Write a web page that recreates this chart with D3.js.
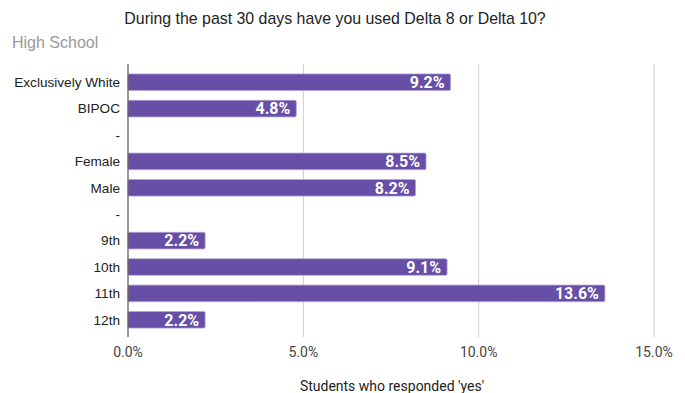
<!DOCTYPE html>
<html>
<head>
<meta charset="utf-8">
<script src="https://cdn.jsdelivr.net/npm/d3@7"></script>
<style>
  body { margin: 0; background: #fff; }
  svg { display: block; }
</style>
</head>
<body>
<div id="chart"></div>
<script>
// chart data
const categories = ["Exclusively White", "BIPOC", "-", "Female", "Male", "-", "9th", "10th", "11th", "12th"];
const values = [9.2, 4.8, null, 8.5, 8.2, null, 2.2, 9.1, 13.6, 2.2];
const xTicks = [0, 5, 10, 15];

const width = 685, height = 393;
const plotLeft = 128, plotRight = 654, plotTop = 64, plotBottom = 337;

const svg = d3.select("#chart").append("svg")
    .attr("width", width)
    .attr("height", height);

const x = d3.scaleLinear().domain([0, 15]).range([plotLeft, plotRight]);
const y = d3.scaleBand()
    .domain(categories.map((d, i) => i))
    .range([69, 333])
    .paddingInner(0.37)
    .paddingOuter(0.185);

// title + subtitle
svg.append("text")
    .attr("x", 335).attr("y", 24)
    .attr("text-anchor", "middle")
    .attr("font-family", "Liberation Sans, Arial, sans-serif")
    .attr("font-size", 15.9)
    .attr("fill", "#222")
    .text("During the past 30 days have you used Delta 8 or Delta 10?");

svg.append("text")
    .attr("x", 12).attr("y", 48)
    .attr("font-family", "Liberation Sans, Arial, sans-serif")
    .attr("font-size", 16)
    .attr("fill", "#999")
    .text("High School");

// gridlines
svg.append("g")
  .selectAll("line")
  .data(xTicks.filter(d => d > 0))
  .join("line")
    .attr("x1", d => x(d)).attr("x2", d => x(d))
    .attr("y1", plotTop).attr("y2", plotBottom)
    .attr("stroke", "#ccc")
    .attr("stroke-width", 1);

// bars
const rows = categories.map((c, i) => ({ i, c, v: values[i] })).filter(d => d.v != null);

svg.append("g")
  .selectAll("rect")
  .data(rows)
  .join("rect")
    .attr("x", x(0))
    .attr("y", d => y(d.i))
    .attr("width", d => x(d.v) - x(0))
    .attr("height", y.bandwidth())
    .attr("rx", 1.5)
    .attr("fill", "#674ea7")
    .attr("stroke", "#b4a7d6")
    .attr("stroke-width", 0.8);

// value labels
svg.append("g")
  .selectAll("text")
  .data(rows)
  .join("text")
    .attr("x", d => x(d.v) - 6)
    .attr("y", d => y(d.i) + y.bandwidth() / 2)
    .attr("dy", "0.36em")
    .attr("text-anchor", "end")
    .attr("font-family", "Roboto, sans-serif")
    .attr("font-weight", "bold")
    .attr("font-size", 16)
    .attr("fill", "#fff")
    .text(d => d.v.toFixed(1) + "%");

// zero axis line
svg.append("line")
    .attr("x1", x(0)).attr("x2", x(0))
    .attr("y1", plotTop).attr("y2", plotBottom)
    .attr("stroke", "#555")
    .attr("stroke-width", 1.2);

// category labels
svg.append("g")
  .selectAll("text")
  .data(categories)
  .join("text")
    .attr("x", 120)
    .attr("y", (d, i) => y(i) + y.bandwidth() / 2)
    .attr("dy", "0.36em")
    .attr("text-anchor", "end")
    .attr("font-family", "Liberation Sans, Arial, sans-serif")
    .attr("font-size", 13.6)
    .attr("fill", "#222")
    .text(d => d);

// x tick labels
svg.append("g")
  .selectAll("text")
  .data(xTicks)
  .join("text")
    .attr("x", d => x(d))
    .attr("y", 357)
    .attr("text-anchor", "middle")
    .attr("font-family", "Roboto, sans-serif")
    .attr("font-size", 14)
    .attr("fill", "#444")
    .text(d => d.toFixed(1) + "%");

// x axis title
svg.append("text")
    .attr("x", 392).attr("y", 391)
    .attr("text-anchor", "middle")
    .attr("font-family", "Roboto, sans-serif")
    .attr("font-size", 14)
    .attr("fill", "#222")
    .text("Students who responded 'yes'");
</script>
</body>
</html>
